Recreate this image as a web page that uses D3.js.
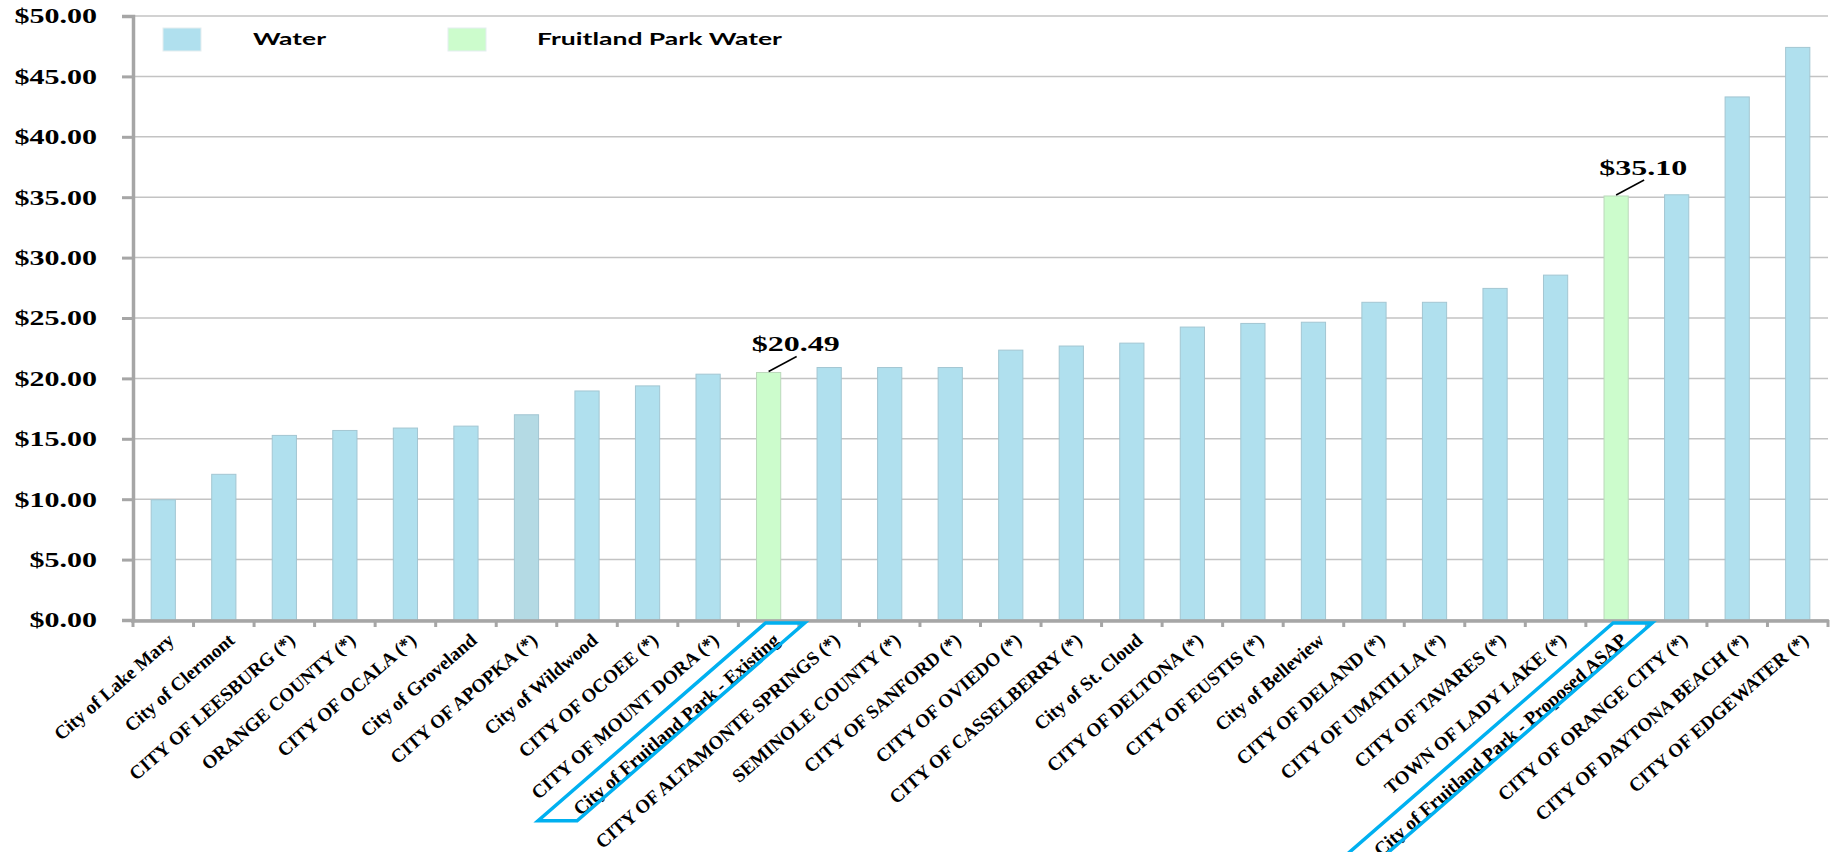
<!DOCTYPE html>
<html>
<head>
<meta charset="utf-8">
<script src="https://cdn.jsdelivr.net/npm/d3@7"></script>
<style>
  html, body { margin: 0; padding: 0; background: #ffffff; }
  svg { display: block; }
</style>
</head>
<body>
<svg id="chart" width="1835" height="852"></svg>
<script>
// ---------- DATA ----------
const categories = [
  "City of Lake Mary", "City of Clermont", "CITY OF LEESBURG (*)", "ORANGE COUNTY (*)",
  "CITY OF OCALA (*)", "City of Groveland", "CITY OF APOPKA (*)", "City of Wildwood",
  "CITY OF OCOEE (*)", "CITY OF MOUNT DORA (*)", "City of Fruitland Park - Existing",
  "CITY OF ALTAMONTE SPRINGS (*)", "SEMINOLE COUNTY (*)", "CITY OF SANFORD (*)",
  "CITY OF OVIEDO (*)", "CITY OF CASSELBERRY (*)", "City of St. Cloud", "CITY OF DELTONA (*)",
  "CITY OF EUSTIS (*)", "City of Belleview", "CITY OF DELAND (*)", "CITY OF UMATILLA (*)",
  "CITY OF TAVARES (*)", "TOWN OF LADY LAKE (*)", "City of Fruitland Park - Proposed ASAP",
  "CITY OF ORANGE CITY (*)", "CITY OF DAYTONA BEACH (*)", "CITY OF EDGEWATER (*)"
];
const values = [
  9.95, 12.06, 15.28, 15.69, 15.89, 16.05, 16.99, 18.96,
  19.38, 20.35, 20.49, 20.90, 20.90, 20.90,
  22.34, 22.68, 22.92, 24.25, 24.55, 24.65, 26.30, 26.30,
  27.45, 28.55, 35.10, 35.20, 43.30, 47.40
];
// series each bar belongs to
const seriesOf = [
  "Water", "Water", "Water", "Water", "Water", "Water", "Water", "Water",
  "Water", "Water", "Fruitland Park Water", "Water", "Water", "Water",
  "Water", "Water", "Water", "Water", "Water", "Water", "Water", "Water",
  "Water", "Water", "Fruitland Park Water", "Water", "Water", "Water"
];
const seriesNames = ["Water", "Fruitland Park Water"];
const yTicks = [0, 5, 10, 15, 20, 25, 30, 35, 40, 45, 50];

// ---------- STYLE ----------
const colors = { "Water": "#b0e0ee", "Fruitland Park Water": "#ccfccc" };
const strokeCol = { "Water": "#a3c6d2", "Fruitland Park Water": "#bcd8bc" };
const apopkaFill = "#b4dae4";
const serif = "'Liberation Serif', 'Times New Roman', serif";

const svg = d3.select("#chart");
svg.append("rect").attr("width", 1835).attr("height", 852).attr("fill", "#ffffff");

const x = d3.scaleBand().domain(categories).range([133, 1828]).paddingInner(0.6).paddingOuter(0.3);
const y = d3.scaleLinear().domain([0, 50]).range([620, 16]);
const step = x.step();

// gridlines
svg.append("g").selectAll("line").data(yTicks).join("line")
  .attr("x1", 133).attr("x2", 1828)
  .attr("y1", d => y(d)).attr("y2", d => y(d))
  .attr("stroke", "#c3c3c3").attr("stroke-width", 1.5);

// bars
const rows = categories.map((c, i) => ({ c, v: values[i], s: seriesOf[i] }));
svg.append("g").selectAll("rect").data(rows).join("rect")
  .attr("x", d => x(d.c)).attr("width", x.bandwidth())
  .attr("y", d => y(d.v)).attr("height", d => y(0) - y(d.v))
  .attr("fill", d => d.c === "CITY OF APOPKA (*)" ? apopkaFill : colors[d.s])
  .attr("stroke", d => strokeCol[d.s]).attr("stroke-width", 1);

// y axis
const yAxis = d3.axisLeft(y).tickValues(yTicks).tickSize(11).tickSizeOuter(11)
  .tickFormat(d => "$" + d.toFixed(2));
const gy = svg.append("g").attr("transform", "translate(133,0)").call(yAxis);
gy.select(".domain").attr("stroke", "#a6a6a6").attr("stroke-width", 3.5);
gy.selectAll(".tick line").attr("stroke", "#a6a6a6").attr("stroke-width", 3);
gy.selectAll(".tick text")
  .attr("x", 0).attr("dy", "0.34em")
  .attr("transform", "translate(-36,0) scale(1.5,1)")
  .attr("font-family", serif).attr("font-weight", "bold").attr("font-size", 20)
  .attr("fill", "#000");

// x axis line and boundary ticks
const gx = svg.append("g");
gx.append("line").attr("x1", 131).attr("x2", x.range()[1] + 1)
  .attr("y1", y(0) + 1).attr("y2", y(0) + 1)
  .attr("stroke", "#a6a6a6").attr("stroke-width", 3.5);
gx.selectAll("line.tk").data(d3.range(categories.length + 1)).join("line")
  .attr("class", "tk")
  .attr("x1", i => x.range()[0] + i * step).attr("x2", i => x.range()[0] + i * step)
  .attr("y1", y(0)).attr("y2", y(0) + 7)
  .attr("stroke", "#a6a6a6").attr("stroke-width", 3);

// category labels
const ang = -41;
const labels = gx.selectAll("text.lab").data(rows).join("text")
  .attr("class", "lab")
  .attr("transform", d => `translate(${x(d.c) + x.bandwidth() / 2 + 12},${y(0) + 22}) rotate(${ang})`)
  .attr("text-anchor", "end")
  .attr("font-family", serif).attr("font-weight", "bold").attr("font-size", 19)
  .attr("fill", "#000")
  .text(d => d.c);

// highlight boxes around Fruitland Park labels
const rad = Math.abs(ang) * Math.PI / 180;
labels.each(function (d) {
  if (d.s !== "Fruitland Park Water") return;
  const len = this.getComputedTextLength();
  const cx = x(d.c) + x.bandwidth() / 2;
  const top = y(0) + 3;
  const L = len + 36;
  const dx = L * Math.cos(rad), dy = L * Math.sin(rad);
  const pts = [[cx - 3, top], [cx + 36, top], [cx + 36 - dx, top + dy], [cx - 3 - dx, top + dy]];
  svg.append("path")
    .attr("d", "M" + pts.map(p => p.join(",")).join("L") + "Z")
    .attr("fill", "none").attr("stroke", "#00b0f0").attr("stroke-width", 3.5)
    .attr("stroke-linejoin", "miter");
});

// data callouts for Fruitland Park bars
const fp = rows.filter(d => d.s === "Fruitland Park Water");
const gc = svg.append("g");
gc.selectAll("line").data(fp).join("line")
  .attr("x1", d => x(d.c) + x.bandwidth() / 2).attr("y1", d => y(d.v) - 1)
  .attr("x2", d => x(d.c) + x.bandwidth() / 2 + 28).attr("y2", d => y(d.v) - 16)
  .attr("stroke", "#000").attr("stroke-width", 1.5);
gc.selectAll("text").data(fp).join("text")
  .attr("x", d => x(d.c) + x.bandwidth() / 2 + 27).attr("y", d => y(d.v) - 21)
  .attr("text-anchor", "middle")
  .attr("font-family", serif).attr("font-weight", "bold").attr("font-size", 20)
  .attr("textLength", 88).attr("lengthAdjust", "spacingAndGlyphs")
  .attr("fill", "#000")
  .text(d => "$" + d.v.toFixed(2));

// legend
const legX = [163, 448], legTX = [253, 537], legTW = [73, 245];
const lg = svg.append("g");
seriesNames.forEach((s, i) => {
  lg.append("rect").attr("x", legX[i]).attr("y", 28).attr("width", 38).attr("height", 23)
    .attr("fill", colors[s]).attr("stroke", "#e4eef0").attr("stroke-width", 1);
  lg.append("text").attr("x", legTX[i]).attr("y", 45)
    .attr("font-family", "Lato, 'Open Sans', sans-serif").attr("font-weight", "bold")
    .attr("font-size", 17).attr("fill", "#000")
    .attr("textLength", legTW[i]).attr("lengthAdjust", "spacingAndGlyphs")
    .text(s);
});
</script>
</body>
</html>
